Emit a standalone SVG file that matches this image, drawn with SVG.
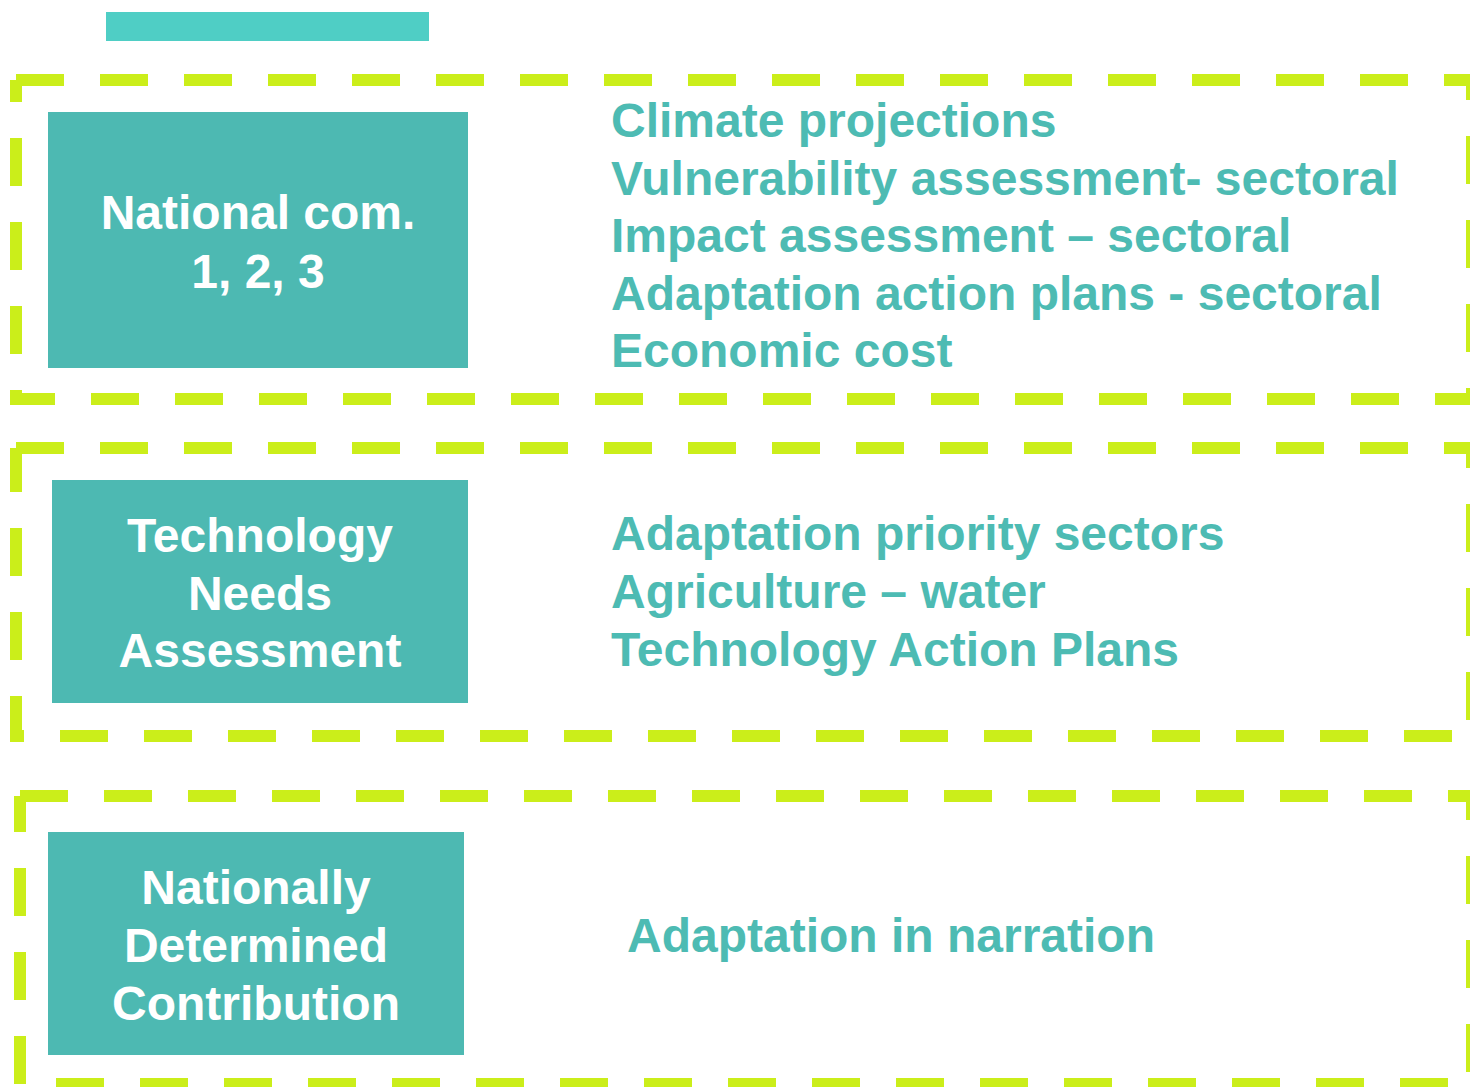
<svg xmlns="http://www.w3.org/2000/svg" width="1470" height="1087" viewBox="0 0 1470 1087">
<style>
.frame{fill:none;stroke:#CBEE1A;stroke-width:12;stroke-dasharray:48 36;stroke-linecap:butt}
.box{fill:#4DB9B2}
.bt{font-family:"Liberation Sans",Arial,sans-serif;font-weight:bold;font-size:48px;fill:#FFFFFF;text-anchor:middle}
.it{font-family:"Liberation Sans",Arial,sans-serif;font-weight:bold;font-size:48px;fill:#4DBBB3}
</style>
<rect width="1470" height="1087" fill="#FFFFFF"/>
<rect id="topbar" x="106" y="12" width="323" height="29" fill="#4FCEC5"/>
<g id="frames">
<path class="frame" d="M16,80 H1472 V399 H16 V80"/>
<path class="frame" d="M16,448 H1472 V736 H16 V448"/>
<path class="frame" d="M20,796 H1472 V1084 H20 V796"/>
</g>
<g id="node-national-com">
<rect class="box" x="48" y="112" width="420" height="256"/>
<text class="bt" x="258" y="229">National com.</text>
<text class="bt" x="258" y="288">1, 2, 3</text>
</g>
<g id="list-national-com">
<text class="it" x="611" y="137">Climate projections</text>
<text class="it" x="611" y="194.5">Vulnerability assessment- sectoral</text>
<text class="it" x="611" y="252">Impact assessment – sectoral</text>
<text class="it" x="611" y="309.5">Adaptation action plans - sectoral</text>
<text class="it" x="611" y="367">Economic cost</text>
</g>
<g id="node-tna">
<rect class="box" x="52" y="480" width="416" height="223"/>
<text class="bt" x="260" y="552">Technology</text>
<text class="bt" x="260" y="610">Needs</text>
<text class="bt" x="260" y="667">Assessment</text>
</g>
<g id="list-tna">
<text class="it" x="611" y="550">Adaptation priority sectors</text>
<text class="it" x="611" y="608">Agriculture – water</text>
<text class="it" x="611" y="666">Technology Action Plans</text>
</g>
<g id="node-ndc">
<rect class="box" x="48" y="832" width="416" height="223"/>
<text class="bt" x="256" y="904">Nationally</text>
<text class="bt" x="256" y="962">Determined</text>
<text class="bt" x="256" y="1020">Contribution</text>
</g>
<g id="list-ndc">
<text class="it" x="627" y="952">Adaptation in narration</text>
</g>
</svg>
